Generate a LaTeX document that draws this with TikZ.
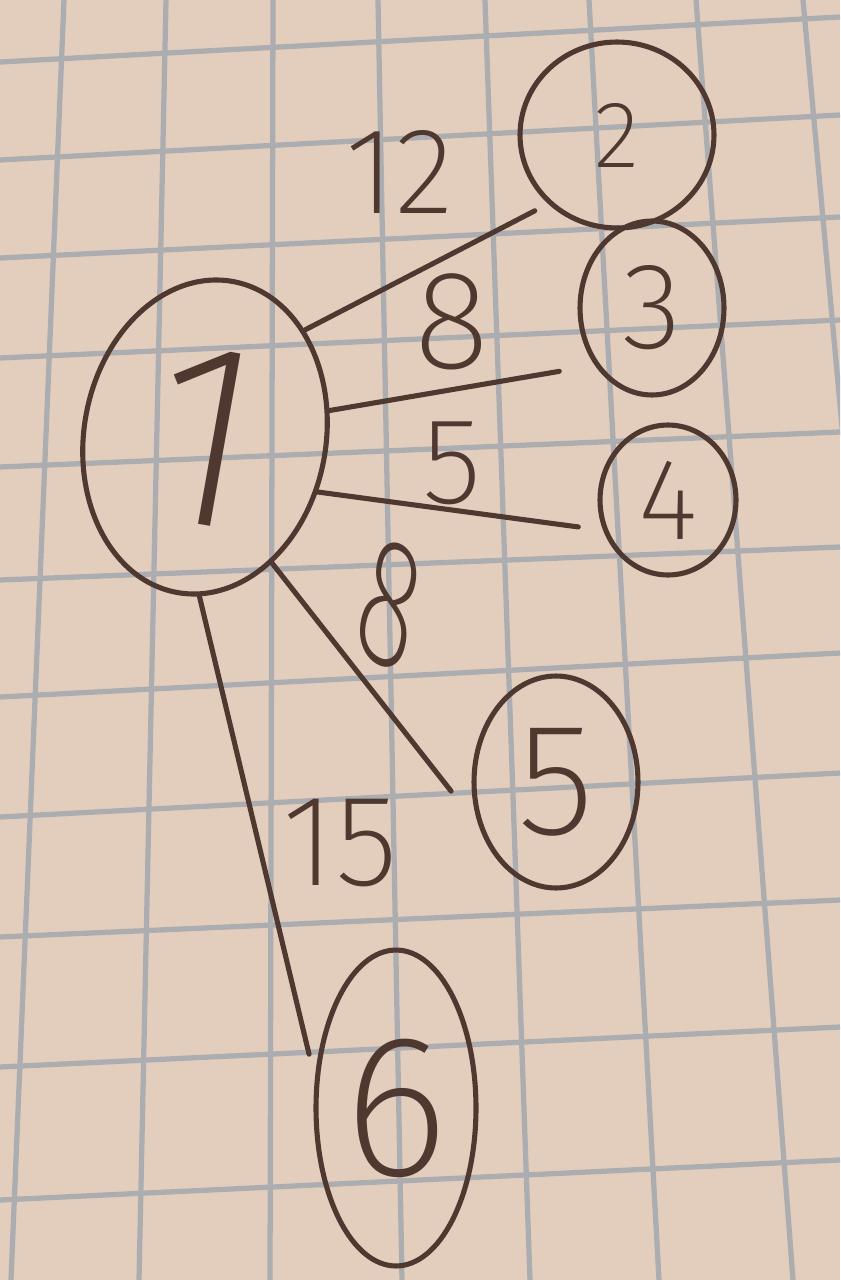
\documentclass[tikz,border=0pt]{standalone}
\usepackage{fontspec}
\newfontfamily\hand{Fira Sans ExtraLight}
\usetikzlibrary{shapes.geometric}
\definecolor{paper}{RGB}{227,206,190}
\definecolor{gridc}{RGB}{172,173,176}
\definecolor{ink}{RGB}{78,56,48}
\newcommand{\fsz}[1]{\fontsize{#1}{#1}\selectfont}
\tikzset{
  vert/.style={draw=ink, line width=2.9pt, ellipse, inner sep=0pt, text=ink},
  wlabel/.style={text=ink, inner sep=0pt},
  edge/.style={draw=ink, line width=2.9pt, line cap=round},
  gridline/.style={draw=gridc, line width=3pt}
}
\begin{document}
\begin{tikzpicture}[x=0.02cm,y=-0.02cm]
\fill[paper] (0,0) rectangle (840,1280);
\useasboundingbox (0,0) rectangle (840,1280);
\begin{scope}
\clip (0,0) rectangle (840,1280);
% horizontal grid lines
\foreach \a/\b in {62/17,160/115,258/217,358/320,467/432,580/547,697/653,817/773,937/900,1067/1027,1200/1160}
  \draw[gridline] (0,\a) -- (840,\b);
% vertical grid lines
\foreach \a/\b in {64/11,166/139,273/270,378/402,485/530,589/659,696/793,803/920}
  \draw[gridline] (\a,0) -- (\b,1280);
\end{scope}
% vertices
\node[vert, minimum width=4.84cm, minimum height=6.32cm, rotate=-10, font=\hand\fsz{150}] (n1) at (205,437) {1};
\node[vert, minimum width=3.88cm, minimum height=3.72cm, font=\hand\fsz{54}] (n2) at (617,135) {2};
\node[vert, minimum width=2.88cm, minimum height=3.48cm, font=\hand\fsz{70}] (n3) at (652,308) {3};
\node[vert, minimum width=2.72cm, minimum height=3.0cm, font=\hand\fsz{66}] (n4) at (668,500) {4};
\node[vert, minimum width=3.28cm, minimum height=4.24cm, font=\hand\fsz{91}] (n5) at (556,782) {5};
\node[vert, minimum width=3.2cm, minimum height=6.32cm, font=\hand\fsz{115}] (n6) at (396,1108) {6};
% edges
\draw[edge, shorten >=0.3cm] (n1.57) -- (n2.225);
\draw[edge, shorten >=0.72cm] (n1.22) -- (n3.225);
\draw[edge, shorten >=0.5cm] (n1.-16) -- (n4.205);
\draw[edge, shorten >=0.9cm] (n1.-52) -- (n5.210);
\draw[edge, shorten >=0.5cm] (n1.-82) -- (n6.160);
% weights
\node[wlabel, font=\hand\fsz{70}] (w12) at (400,172) {12};
\node[wlabel, font=\hand\fsz{80}] (w13) at (452,322) {8};
\node[wlabel, font=\hand\fsz{70}] (w14) at (452,463) {5};
\node[wlabel, font=\hand\fsz{105}, xscale=0.6, rotate=-20] (w15) at (390,605) {8};
\node[wlabel, font=\hand\fsz{74}] (w16) at (340,843) {15};
\end{tikzpicture}
\end{document}
